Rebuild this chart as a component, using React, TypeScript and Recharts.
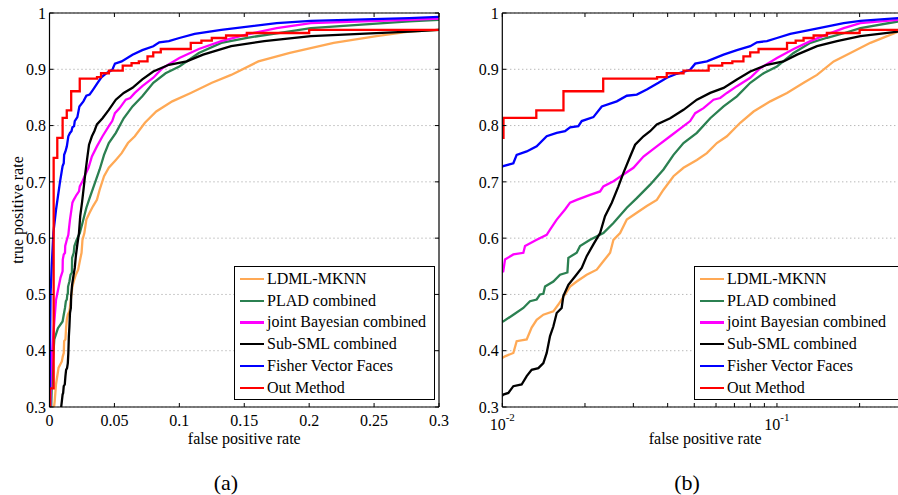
import React from 'react';
import { LineChart, Line, XAxis, YAxis, CartesianGrid, Legend } from 'recharts';

const FONT = '"Liberation Serif", "Times New Roman", Times, serif';

// ROC curves as [false positive rate, true positive rate]
const ldmlMknn: [number, number][] = [
  [0.003, 0.29], [0.004, 0.31], [0.005, 0.34], [0.007, 0.37], [0.0095, 0.381], [0.01023, 0.39],
  [0.01097, 0.396], [0.01128, 0.417], [0.01227, 0.42], [0.01279, 0.441], [0.01334, 0.455],
  [0.01411, 0.464], [0.01534, 0.47], [0.016, 0.482], [0.01692, 0.5], [0.01765, 0.514],
  [0.01866, 0.523], [0.02029, 0.535], [0.02207, 0.544], [0.02333, 0.559], [0.02469, 0.574],
  [0.02539, 0.597], [0.02685, 0.609], [0.0284, 0.633], [0.03088, 0.645], [0.03358, 0.657],
  [0.03652, 0.668], [0.03863, 0.686], [0.04201, 0.71], [0.04568, 0.725], [0.0511, 0.739],
  [0.05557, 0.751], [0.06043, 0.769], [0.06572, 0.781], [0.0735, 0.805], [0.08221, 0.825],
  [0.09456, 0.843], [0.1088, 0.858], [0.1251, 0.876], [0.1399, 0.89], [0.1609, 0.914],
  [0.1851, 0.929], [0.2189, 0.947], [0.2518, 0.959], [0.277, 0.967], [0.3, 0.97],
];

const pladCombined: [number, number][] = [
  [0.0012, 0.29], [0.002, 0.36], [0.0037, 0.42], [0.0065, 0.44], [0.01008, 0.452],
  [0.01097, 0.464], [0.01193, 0.476], [0.01261, 0.488], [0.01334, 0.491], [0.01372, 0.5],
  [0.01411, 0.501], [0.01431, 0.514], [0.01534, 0.523], [0.01623, 0.535], [0.01726, 0.539],
  [0.0174, 0.565], [0.01866, 0.574], [0.01919, 0.586], [0.02087, 0.597], [0.02333, 0.609],
  [0.02539, 0.627], [0.0284, 0.654], [0.03088, 0.671], [0.03453, 0.695], [0.03863, 0.722],
  [0.04201, 0.748], [0.04568, 0.769], [0.0511, 0.787], [0.05715, 0.813], [0.06393, 0.834],
  [0.07148, 0.852], [0.07995, 0.876], [0.08942, 0.893], [0.1, 0.905], [0.115, 0.929],
  [0.1323, 0.947], [0.1522, 0.956], [0.175, 0.964], [0.2013, 0.973], [0.277, 0.985], [0.3, 0.988],
];

const jointBayesian: [number, number][] = [
  [0.0005, 0.29], [0.001, 0.36], [0.003, 0.43], [0.005, 0.49], [0.0085, 0.53], [0.01008, 0.541],
  [0.01023, 0.562], [0.01097, 0.571], [0.01193, 0.574], [0.0121, 0.586], [0.01334, 0.597],
  [0.01451, 0.606], [0.01492, 0.615], [0.01578, 0.633], [0.01692, 0.651], [0.01765, 0.663],
  [0.01866, 0.668], [0.02087, 0.677], [0.0227, 0.683], [0.02333, 0.692], [0.02539, 0.701],
  [0.02761, 0.713], [0.03003, 0.725], [0.03266, 0.745], [0.03652, 0.763], [0.04085, 0.781],
  [0.04568, 0.799], [0.04831, 0.808], [0.0504, 0.822], [0.05404, 0.831], [0.05876, 0.846],
  [0.06214, 0.849], [0.06572, 0.858], [0.07148, 0.87], [0.07995, 0.885], [0.08695, 0.902],
  [0.1, 0.92], [0.115, 0.936], [0.1323, 0.95], [0.1522, 0.962], [0.175, 0.973], [0.2013, 0.982],
  [0.277, 0.988], [0.3, 0.99],
];

const subSml: [number, number][] = [
  [0.0085, 0.29], [0.0095, 0.31], [0.01008, 0.322], [0.01052, 0.325], [0.01097, 0.337],
  [0.01176, 0.34], [0.01227, 0.355], [0.01279, 0.366], [0.01353, 0.369], [0.01411, 0.378],
  [0.01451, 0.396], [0.01492, 0.426], [0.01534, 0.443], [0.01578, 0.467], [0.01645, 0.476],
  [0.01668, 0.497], [0.0174, 0.517], [0.0184, 0.532], [0.01946, 0.547], [0.02029, 0.568],
  [0.02146, 0.589], [0.0227, 0.609], [0.02366, 0.639], [0.02504, 0.663], [0.02647, 0.692],
  [0.02761, 0.716], [0.02921, 0.745], [0.03045, 0.766], [0.03266, 0.781], [0.03453, 0.79],
  [0.03652, 0.802], [0.04085, 0.813], [0.04568, 0.828], [0.0511, 0.846], [0.05715, 0.858],
  [0.06393, 0.867], [0.07148, 0.882], [0.07995, 0.896], [0.09194, 0.908], [0.1057, 0.914],
  [0.1183, 0.926], [0.1399, 0.941], [0.1654, 0.95], [0.2013, 0.959], [0.277, 0.967], [0.3, 0.97],
];

const fisherVectorFaces: [number, number][] = [
  [0.0002, 0.29], [0.0004, 0.4], [0.0008, 0.5], [0.0017, 0.55], [0.003, 0.61], [0.005, 0.65],
  [0.0081, 0.7], [0.01008, 0.728], [0.01097, 0.733], [0.01128, 0.748], [0.01227, 0.754],
  [0.01334, 0.763], [0.01451, 0.781], [0.01578, 0.787], [0.01692, 0.79], [0.01765, 0.797],
  [0.01892, 0.799], [0.01946, 0.808], [0.02146, 0.815], [0.02302, 0.834], [0.02611, 0.843],
  [0.0284, 0.853], [0.03088, 0.855], [0.03358, 0.864], [0.03704, 0.876], [0.03972, 0.885],
  [0.0432, 0.892], [0.04831, 0.899], [0.0504, 0.91], [0.05557, 0.914], [0.06393, 0.926],
  [0.07148, 0.934], [0.07995, 0.941], [0.08455, 0.948], [0.09194, 0.95], [0.1, 0.9556],
  [0.1118, 0.963], [0.1323, 0.97], [0.175, 0.982], [0.2013, 0.986], [0.277, 0.991], [0.3, 0.993],
];

// staircase curve, drawn with stepAfter
const outMethod: [number, number][] = [
  [0.0001, 0.25], [0.0003, 0.333], [0.0032, 0.7425], [0.006, 0.778], [0.0101, 0.8135],
  [0.0133, 0.827], [0.0167, 0.861], [0.0233, 0.8834], [0.0366, 0.886], [0.0397, 0.893],
  [0.0457, 0.8976], [0.0564, 0.9065], [0.0632, 0.911], [0.0688, 0.914], [0.0755, 0.923],
  [0.0799, 0.93], [0.0857, 0.936], [0.1088, 0.947], [0.117, 0.951], [0.125, 0.9556],
  [0.136, 0.96], [0.152, 0.9645], [0.2, 0.97], [0.3, 0.97],
];

const seriesNames = [
  'LDML-MKNN',
  'PLAD combined',
  'joint Bayesian combined',
  'Sub-SML combined',
  'Fisher Vector Faces',
  'Out Method',
];
const seriesData = [ldmlMknn, pladCombined, jointBayesian, subSml, fisherVectorFaces, outMethod];
const seriesColors = ['#FFA955', '#2B8051', '#FF00FF', '#000000', '#0000FF', '#FF0000'];
const seriesStep = [false, false, false, false, false, true];

const tprTicks = [0.3, 0.4, 0.5, 0.6, 0.7, 0.8, 0.9, 1];
const linearFprTicks = [0, 0.05, 0.1, 0.15, 0.2, 0.25, 0.3];
const logFprTicks = [0.01, 0.02, 0.03, 0.04, 0.05, 0.06, 0.07, 0.08, 0.09, 0.1, 0.2, 0.3];
const logMajorTicks = [0.01, 0.1];

const axisStroke = { stroke: '#000', strokeWidth: 1.2 };
const tickText = { fill: '#000', fontSize: 16, fontFamily: FONT };

const LogTick = (props: any) => {
  const { x, y, payload } = props;
  if (!logMajorTicks.includes(payload.value)) return <g />;
  const exp = Math.round(Math.log10(payload.value));
  return (
    <text x={x} y={y + 15} textAnchor="middle" fill="#000" fontFamily={FONT} fontSize={16}>
      10
      <tspan dy={-9} fontSize={11}>{exp}</tspan>
    </text>
  );
};

const renderLegend = (props: any) => {
  const items = [...(props.payload || [])].sort(
    (a: any, b: any) => seriesNames.indexOf(a.value) - seriesNames.indexOf(b.value)
  );
  return (
    <div
      style={{
        border: '1.2px solid #000',
        background: '#fff',
        boxSizing: 'border-box',
        width: '100%',
        height: '100%',
        paddingTop: 1,
        fontFamily: FONT,
        fontSize: 16,
        color: '#000',
      }}
    >
      {items.map((item: any) => (
        <div key={item.value} style={{ display: 'flex', alignItems: 'center', height: 21.8, whiteSpace: 'nowrap' }}>
          <span
            style={{
              display: 'inline-block',
              width: 24,
              height: 2.3,
              background: item.color,
              marginLeft: 5,
              marginRight: 3,
            }}
          />
          <span>{item.value}</span>
        </div>
      ))}
    </div>
  );
};

interface RocPanelProps {
  log: boolean;
  left: number;
  width: number;
  yAxisWidth: number;
  marginRight: number;
  legendLeft: number;
  legendWidth: number;
  yLabel?: string;
}

const RocPanel: React.FC<RocPanelProps> = ({
  log,
  left,
  width,
  yAxisWidth,
  marginRight,
  legendLeft,
  legendWidth,
  yLabel,
}) => {
  const domain: [number, number] = log ? [0.01, 0.3] : [0, 0.3];
  const ticks = log ? logFprTicks : linearFprTicks;
  const scale = log ? 'log' : 'linear';

  return (
    <div style={{ position: 'absolute', left, top: 0 }}>
      <LineChart width={width} height={450} margin={{ top: 13, right: marginRight, bottom: 1, left: 0 }}>
        <CartesianGrid vertical={false} stroke="#9a9a9a" strokeDasharray="1 3" />
        <XAxis
          type="number"
          dataKey="x"
          scale={scale}
          domain={domain}
          ticks={ticks}
          interval={0}
          allowDataOverflow
          height={42}
          tickSize={-4}
          tickMargin={12}
          axisLine={axisStroke}
          tickLine={{ stroke: '#000' }}
          tick={log ? <LogTick /> : tickText}
          tickFormatter={(v: number) => String(v)}
          label={{
            value: 'false positive rate',
            position: 'insideBottom',
            offset: 5,
            style: { fill: '#000', fontSize: 16, fontFamily: FONT },
          }}
        />
        <XAxis
          xAxisId="top"
          type="number"
          dataKey="x"
          orientation="top"
          mirror
          scale={scale}
          domain={domain}
          ticks={ticks}
          interval={0}
          allowDataOverflow
          height={1}
          tickSize={4}
          axisLine={axisStroke}
          tickLine={{ stroke: '#000' }}
          tickFormatter={() => ''}
        />
        <YAxis
          type="number"
          domain={[0.3, 1]}
          ticks={tprTicks}
          interval={0}
          allowDataOverflow
          width={yAxisWidth}
          tickSize={-4}
          tickMargin={7.5}
          axisLine={axisStroke}
          tickLine={{ stroke: '#000' }}
          tick={tickText}
          tickFormatter={(v: number) => String(v)}
          label={
            yLabel
              ? {
                  value: yLabel,
                  angle: -90,
                  position: 'center',
                  dx: -7,
                  style: { fill: '#000', fontSize: 16, fontFamily: FONT },
                }
              : undefined
          }
        />
        <YAxis
          yAxisId="right"
          type="number"
          orientation="right"
          mirror
          domain={[0.3, 1]}
          ticks={tprTicks}
          interval={0}
          allowDataOverflow
          width={1}
          tickSize={4}
          axisLine={axisStroke}
          tickLine={{ stroke: '#000' }}
          tickFormatter={() => ''}
        />
        {seriesData.map((points, i) => (
          <Line
            key={seriesNames[i]}
            name={seriesNames[i]}
            data={points.map(([x, y]) => ({ x, y }))}
            dataKey="y"
            type={seriesStep[i] ? 'stepAfter' : 'linear'}
            stroke={seriesColors[i]}
            strokeWidth={2.3}
            dot={false}
            activeDot={false}
            isAnimationActive={false}
          />
        ))}
        <Legend
          layout="horizontal"
          align="center"
          verticalAlign="middle"
          content={renderLegend}
          wrapperStyle={{ left: legendLeft, top: 266, width: legendWidth, height: 134, right: 'auto', bottom: 'auto' }}
        />
      </LineChart>
    </div>
  );
};

const captionStyle: React.CSSProperties = {
  position: 'absolute',
  top: 470,
  width: 60,
  textAlign: 'center',
  fontFamily: FONT,
  fontSize: 22,
  lineHeight: '26px',
  color: '#000',
};

export default function App() {
  return (
    <div
      style={{
        position: 'absolute',
        left: 0,
        top: 0,
        width: 898,
        height: 495,
        overflow: 'hidden',
        background: '#fff',
      }}
    >
      <RocPanel
        log={false}
        left={0}
        width={450}
        yAxisWidth={49.5}
        marginRight={11}
        legendLeft={234}
        legendWidth={201}
        yLabel="true positive rate"
      />
      <RocPanel
        log
        left={450}
        width={470}
        yAxisWidth={52.3}
        marginRight={12}
        legendLeft={244}
        legendWidth={215}
      />
      <div style={{ ...captionStyle, left: 196 }}>(a)</div>
      <div style={{ ...captionStyle, left: 657 }}>(b)</div>
    </div>
  );
}
